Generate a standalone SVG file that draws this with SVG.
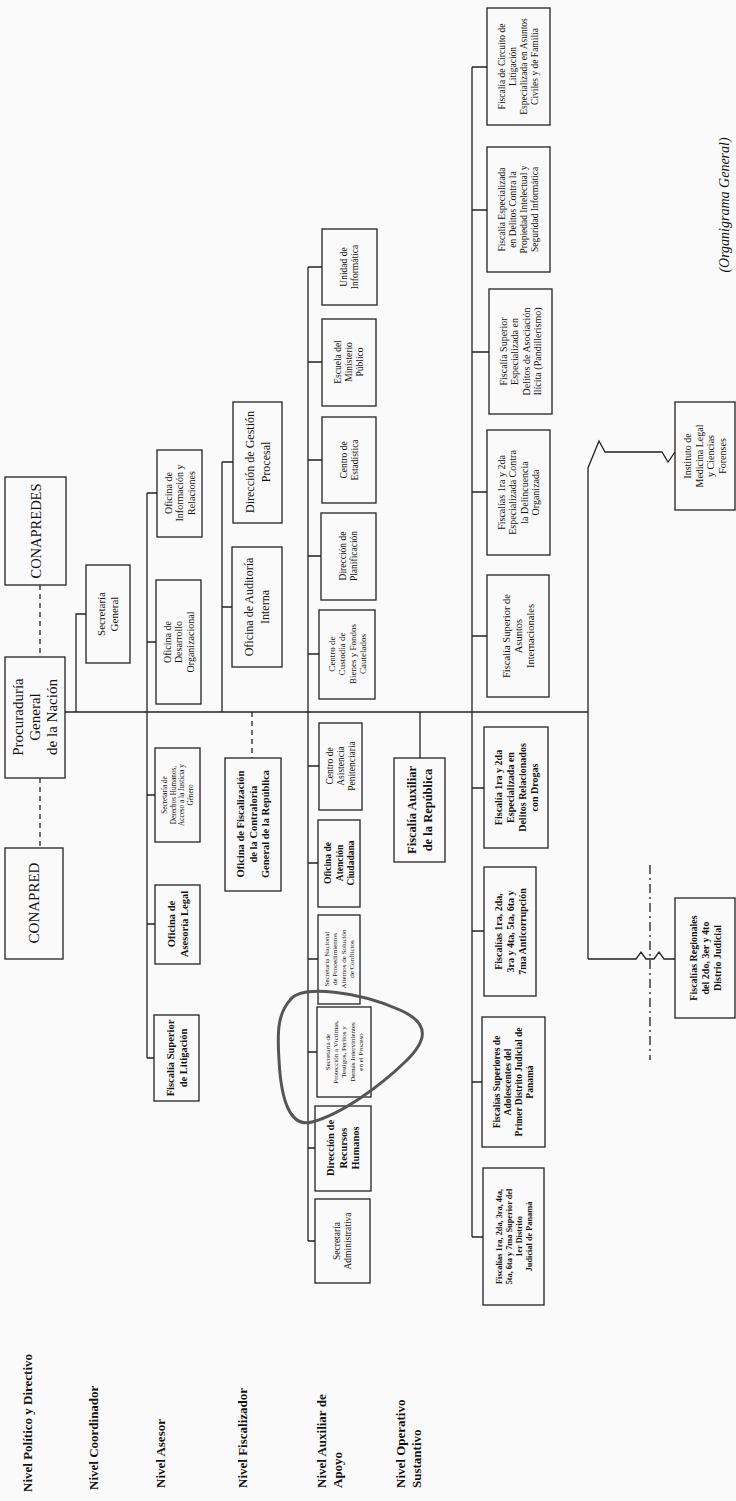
<svg xmlns="http://www.w3.org/2000/svg" width="736" height="1501" viewBox="0 0 736 1501">
<style>
.bg{fill:#fafafa}
.bx{fill:none;stroke:#222;stroke-width:1.3}
.ln{fill:none;stroke:#222;stroke-width:1.3}
.dsh{stroke-dasharray:5 4}
.dd{stroke-dasharray:9 4 2 4}
.t{font-family:"Liberation Serif","Times New Roman",serif;fill:#111;text-anchor:middle}
.b{font-weight:bold}
.nv{font-family:"Liberation Serif","Times New Roman",serif;fill:#111;font-weight:bold;font-size:13px;text-anchor:start}
.circ{fill:none;stroke:#555;stroke-width:3}
</style>
<rect class="bg" x="0" y="0" width="736" height="1501"/>

<g id="connectors">
<path class="ln dsh" d="M40,585 V657"/>
<path class="ln dsh" d="M40,778 V848"/>
<path class="ln" d="M65,712 H588"/>
<path class="ln" d="M76,712 V614 H86"/>
<path class="ln" d="M147,493 V1058 M147,493 H157 M147,642 H156 M147,795 H155 M147,924 H155 M147,1058 H154"/>
<path class="ln" d="M222,462 V712 M222,462 H233 M222,607 H232"/>
<path class="ln dsh" d="M252,712 V758"/>
<path class="ln" d="M308,267 V1241 M308,267 H322 M308,362 H322 M308,460 H322 M308,556 H321 M308,654 H319 M308,766 H319 M308,863 H318 M308,959 H318 M308,1052 H317 M308,1148 H315 M308,1241 H315"/>
<path class="ln" d="M420,712 V758"/>
<path class="ln" d="M472,67 V1237 M472,67 H487 M472,210 H487 M472,352 H489 M472,492 H487 M472,636 H487 M472,788 H484 M472,931 H484 M472,1082 H482 M472,1237 H483"/>
<path class="ln" d="M588,712 V959"/>
<path class="ln" d="M588,712 V468 L599,441 L605,452 H662 L668,462 L675,452"/>
<path class="ln" d="M588,959 H636 L641,952 L646,959 H654 L659,952 L664,959 H675"/>
<path class="ln dd" d="M650,865 V1060"/>
</g>

<g id="conapredes"><rect class="bx" x="5" y="477" width="61" height="108"/>
<text class="t" font-size="14.5" transform="translate(35.5,531) rotate(-90)"><tspan x="0" y="5">CONAPREDES</tspan></text></g>
<g id="procuraduria"><rect class="bx" x="5" y="657" width="60" height="121"/>
<text class="t" font-size="15" transform="translate(35,717) rotate(-90)"><tspan x="0" y="-12">Procuraduría</tspan><tspan x="0" dy="17">General</tspan><tspan x="0" dy="17">de la Nación</tspan></text></g>
<g id="conapred"><rect class="bx" x="5" y="848" width="58" height="111"/>
<text class="t" font-size="15" transform="translate(34,903) rotate(-90)"><tspan x="0" y="5">CONAPRED</tspan></text></g>

<g id="secretaria-general"><rect class="bx" x="86" y="565" width="44" height="98"/>
<text class="t" font-size="11" transform="translate(108,614) rotate(-90)"><tspan x="0" y="-2.6">Secretaría</tspan><tspan x="0" dy="13">General</tspan></text></g>

<g id="of-informacion"><rect class="bx" x="157" y="450" width="45" height="87"/>
<text class="t" font-size="10" transform="translate(179.5,493) rotate(-90)"><tspan x="0" y="-8">Oficina de</tspan><tspan x="0" dy="11.5">Información y</tspan><tspan x="0" dy="11.5">Relaciones</tspan></text></g>
<g id="of-desarrollo"><rect class="bx" x="156" y="580" width="45" height="124"/>
<text class="t" font-size="10" transform="translate(178.5,642) rotate(-90)"><tspan x="0" y="-8">Oficina de</tspan><tspan x="0" dy="11.5">Desarrollo</tspan><tspan x="0" dy="11.5">Organizacional</tspan></text></g>
<g id="sec-ddhh"><rect class="bx" x="155" y="748" width="45" height="94"/>
<text class="t" font-size="7.2" transform="translate(177.5,795) rotate(-90)"><tspan x="0" y="-10.25">Secretaría de</tspan><tspan x="0" dy="8.5">Derechos Humanos,</tspan><tspan x="0" dy="8.5">Acceso a la Justicia y</tspan><tspan x="0" dy="8.5">Género</tspan></text></g>
<g id="of-asesoria"><rect class="bx" x="155" y="885" width="45" height="79"/>
<text class="t b" font-size="10.5" transform="translate(177.5,924) rotate(-90)"><tspan x="0" y="-2.6">Oficina de</tspan><tspan x="0" dy="13">Asesoría Legal</tspan></text></g>
<g id="fs-litigacion"><rect class="bx" x="154" y="1015" width="45" height="86"/>
<text class="t b" font-size="10.5" transform="translate(176.5,1058) rotate(-90)"><tspan x="0" y="-2.6">Fiscalía Superior</tspan><tspan x="0" dy="13">de Litigación</tspan></text></g>

<g id="dir-gestion"><rect class="bx" x="233" y="402" width="49" height="121"/>
<text class="t" font-size="12" transform="translate(257.5,462) rotate(-90)"><tspan x="0" y="-3.6">Dirección de Gestión</tspan><tspan x="0" dy="16">Procesal</tspan></text></g>
<g id="of-auditoria"><rect class="bx" x="232" y="547" width="50" height="120"/>
<text class="t" font-size="12" transform="translate(257,607) rotate(-90)"><tspan x="0" y="-3.6">Oficina de Auditoría</tspan><tspan x="0" dy="16">Interna</tspan></text></g>
<g id="of-fiscalizacion"><rect class="bx" x="225" y="758" width="56" height="133"/>
<text class="t b" font-size="10.5" transform="translate(253,824) rotate(-90)"><tspan x="0" y="-8.6">Oficina de Fiscalización</tspan><tspan x="0" dy="12.5">de la Contraloría</tspan><tspan x="0" dy="12.5">General de la República</tspan></text></g>

<g id="u-informatica"><rect class="bx" x="322" y="229" width="55" height="76"/>
<text class="t" font-size="9.5" transform="translate(349.5,267) rotate(-90)"><tspan x="0" y="-2.2">Unidad de</tspan><tspan x="0" dy="11">Informática</tspan></text></g>
<g id="escuela"><rect class="bx" x="322" y="319" width="54" height="87"/>
<text class="t" font-size="9.5" transform="translate(349,362) rotate(-90)"><tspan x="0" y="-7.7">Escuela del</tspan><tspan x="0" dy="11">Ministerio</tspan><tspan x="0" dy="11">Público</tspan></text></g>
<g id="c-estadistica"><rect class="bx" x="322" y="417" width="54" height="86"/>
<text class="t" font-size="9.5" transform="translate(349,460) rotate(-90)"><tspan x="0" y="-2.2">Centro de</tspan><tspan x="0" dy="11">Estadística</tspan></text></g>
<g id="dir-planificacion"><rect class="bx" x="321" y="513" width="55" height="87"/>
<text class="t" font-size="9.5" transform="translate(348.5,556) rotate(-90)"><tspan x="0" y="-2.2">Dirección de</tspan><tspan x="0" dy="11">Planificación</tspan></text></g>
<g id="c-custodia"><rect class="bx" x="319" y="610" width="56" height="89"/>
<text class="t" font-size="9" transform="translate(347,654) rotate(-90)"><tspan x="0" y="-12.5">Centro de</tspan><tspan x="0" dy="10.5">Custodia de</tspan><tspan x="0" dy="10.5">Bienes y Fondos</tspan><tspan x="0" dy="10.5">Cautelados</tspan></text></g>
<g id="c-asistencia"><rect class="bx" x="319" y="723" width="43" height="87"/>
<text class="t" font-size="9.5" transform="translate(340.5,766) rotate(-90)"><tspan x="0" y="-7.7">Centro de</tspan><tspan x="0" dy="11">Asistencia</tspan><tspan x="0" dy="11">Penitenciaria</tspan></text></g>
<g id="of-atencion"><rect class="bx" x="318" y="820" width="42" height="87"/>
<text class="t b" font-size="9.5" transform="translate(339,863) rotate(-90)"><tspan x="0" y="-8">Oficina de</tspan><tspan x="0" dy="11.5">Atención</tspan><tspan x="0" dy="11.5">Ciudadana</tspan></text></g>
<g id="sec-nacional"><rect class="bx" x="318" y="915" width="42" height="89"/>
<text class="t" font-size="7" transform="translate(339,959) rotate(-90)"><tspan x="0" y="-10.25">Secretaría Nacional</tspan><tspan x="0" dy="8.5">de Procedimientos</tspan><tspan x="0" dy="8.5">Alternos de Solución</tspan><tspan x="0" dy="8.5">de Conflictos</tspan></text></g>
<g id="sec-proteccion"><rect class="bx" x="317" y="1007" width="54" height="90"/>
<text class="t" font-size="7" transform="translate(344,1052) rotate(-90)"><tspan x="0" y="-14.15">Secretaría de</tspan><tspan x="0" dy="8.3">Protección a Víctimas,</tspan><tspan x="0" dy="8.3">Testigos, Peritos y</tspan><tspan x="0" dy="8.3">Demás Intervinientes</tspan><tspan x="0" dy="8.3">en el Proceso</tspan></text></g>
<g id="dir-rrhh"><rect class="bx" x="315" y="1106" width="56" height="85"/>
<text class="t b" font-size="10.5" transform="translate(343,1148) rotate(-90)"><tspan x="0" y="-8.6">Dirección de</tspan><tspan x="0" dy="12.5">Recursos</tspan><tspan x="0" dy="12.5">Humanos</tspan></text></g>
<g id="sec-administrativa"><rect class="bx" x="315" y="1199" width="55" height="84"/>
<text class="t" font-size="9.5" transform="translate(342.5,1241) rotate(-90)"><tspan x="0" y="-2.2">Secretaría</tspan><tspan x="0" dy="11">Administrativa</tspan></text></g>

<g id="fiscalia-auxiliar"><rect class="bx" x="394" y="758" width="51" height="104"/>
<text class="t b" font-size="12.5" transform="translate(419.5,810) rotate(-90)"><tspan x="0" y="-3.45">Fiscalía Auxiliar</tspan><tspan x="0" dy="16">de la República</tspan></text></g>

<g id="f-circuito"><rect class="bx" x="487" y="8" width="63" height="117"/>
<text class="t" font-size="9.5" transform="translate(518.5,66.5) rotate(-90)"><tspan x="0" y="-13.2">Fiscalía de Circuito de</tspan><tspan x="0" dy="11">Litigación</tspan><tspan x="0" dy="11">Especializada en Asuntos</tspan><tspan x="0" dy="11">Civiles y de Familia</tspan></text></g>
<g id="f-propiedad"><rect class="bx" x="487" y="147" width="63" height="125"/>
<text class="t" font-size="9.5" transform="translate(518.5,209.5) rotate(-90)"><tspan x="0" y="-13.2">Fiscalía Especializada</tspan><tspan x="0" dy="11">en Delitos Contra la</tspan><tspan x="0" dy="11">Propiedad Intelectual y</tspan><tspan x="0" dy="11">Seguridad Informática</tspan></text></g>
<g id="f-pandillerismo"><rect class="bx" x="489" y="289" width="63" height="125"/>
<text class="t" font-size="10" transform="translate(520.5,351.5) rotate(-90)"><tspan x="0" y="-13.75">Fiscalía Superior</tspan><tspan x="0" dy="11.5">Especializada en</tspan><tspan x="0" dy="11.5">Delitos de Asociación</tspan><tspan x="0" dy="11.5">Ilícita (Pandillerismo)</tspan></text></g>
<g id="f-delincuencia"><rect class="bx" x="487" y="430" width="63" height="125"/>
<text class="t" font-size="10" transform="translate(518.5,492.5) rotate(-90)"><tspan x="0" y="-13.75">Fiscalías 1ra y 2da</tspan><tspan x="0" dy="11.5">Especializada Contra</tspan><tspan x="0" dy="11.5">la Delincuencia</tspan><tspan x="0" dy="11.5">Organizada</tspan></text></g>
<g id="f-internacionales"><rect class="bx" x="487" y="575" width="62" height="122"/>
<text class="t" font-size="10.5" transform="translate(518,636) rotate(-90)"><tspan x="0" y="-8.3">Fiscalía Superior de</tspan><tspan x="0" dy="12">Asuntos</tspan><tspan x="0" dy="12">Internacionales</tspan></text></g>
<g id="f-drogas"><rect class="bx" x="484" y="727" width="64" height="121"/>
<text class="t b" font-size="10" transform="translate(516,787.5) rotate(-90)"><tspan x="0" y="-14.3">Fiscalía 1ra y 2da</tspan><tspan x="0" dy="12">Especializada en</tspan><tspan x="0" dy="12">Delitos Relacionados</tspan><tspan x="0" dy="12">con Drogas</tspan></text></g>
<g id="f-anticorrupcion"><rect class="bx" x="484" y="867" width="52" height="129"/>
<text class="t b" font-size="10" transform="translate(510,931.5) rotate(-90)"><tspan x="0" y="-8.3">Fiscalías 1ra, 2da,</tspan><tspan x="0" dy="12">3ra y 4ta, 5ta, 6ta y</tspan><tspan x="0" dy="12">7ma Anticorrupción</tspan></text></g>
<g id="f-adolescentes"><rect class="bx" x="482" y="1017" width="63" height="130"/>
<text class="t b" font-size="9.5" transform="translate(513.5,1082) rotate(-90)"><tspan x="0" y="-13.2">Fiscalías Superiores de</tspan><tspan x="0" dy="11">Adolescentes del</tspan><tspan x="0" dy="11">Primer Distrito Judicial de</tspan><tspan x="0" dy="11">Panamá</tspan></text></g>
<g id="f-superior-1er"><rect class="bx" x="483" y="1168" width="61" height="137"/>
<text class="t b" font-size="8.3" transform="translate(513.5,1236.5) rotate(-90)"><tspan x="0" y="-12">Fiscalías 1ra, 2da, 3ra, 4ta,</tspan><tspan x="0" dy="10">5ta, 6ta y 7ma Superior del</tspan><tspan x="0" dy="10">1er Distrito</tspan><tspan x="0" dy="10">Judicial de Panamá</tspan></text></g>

<g id="instituto"><rect class="bx" x="675" y="402" width="60" height="108"/>
<text class="t" font-size="10" transform="translate(705,456) rotate(-90)"><tspan x="0" y="-13.75">Instituto de</tspan><tspan x="0" dy="11.5">Medicina Legal</tspan><tspan x="0" dy="11.5">y Ciencias</tspan><tspan x="0" dy="11.5">Forenses</tspan></text></g>
<g id="f-regionales"><rect class="bx" x="675" y="898" width="60" height="120"/>
<text class="t b" font-size="10" transform="translate(705,958) rotate(-90)"><tspan x="0" y="-8.3">Fiscalías Regionales</tspan><tspan x="0" dy="12">del 2do, 3er y 4to</tspan><tspan x="0" dy="12">Distrio Judicial</tspan></text></g>

<g id="circle-mark"><path class="circ" d="M290,1000 C302,984 360,992 400,1010 C432,1024 426,1042 405,1062 C380,1086 342,1114 312,1122 C290,1128 281,1100 279,1060 C277,1030 278,1012 292,998"/></g>

<g id="niveles">
<text class="nv" transform="translate(32,1492) rotate(-90)">Nivel Político y Directivo</text>
<text class="nv" transform="translate(98,1490) rotate(-90)">Nivel Coordinador</text>
<text class="nv" transform="translate(165,1488) rotate(-90)">Nivel Asesor</text>
<text class="nv" transform="translate(247,1488) rotate(-90)">Nivel Fiscalizador</text>
<text class="nv" transform="translate(326,1488) rotate(-90)"><tspan x="0" y="0">Nivel Auxiliar de</tspan><tspan x="0" dy="16">Apoyo</tspan></text>
<text class="nv" transform="translate(405,1488) rotate(-90)"><tspan x="0" y="0">Nivel Operativo</tspan><tspan x="0" dy="16">Sustantivo</tspan></text>
</g>
<text id="titulo" class="t" font-size="14" font-style="italic" transform="translate(729,205) rotate(-90)">(Organigrama General)</text>
</svg>
